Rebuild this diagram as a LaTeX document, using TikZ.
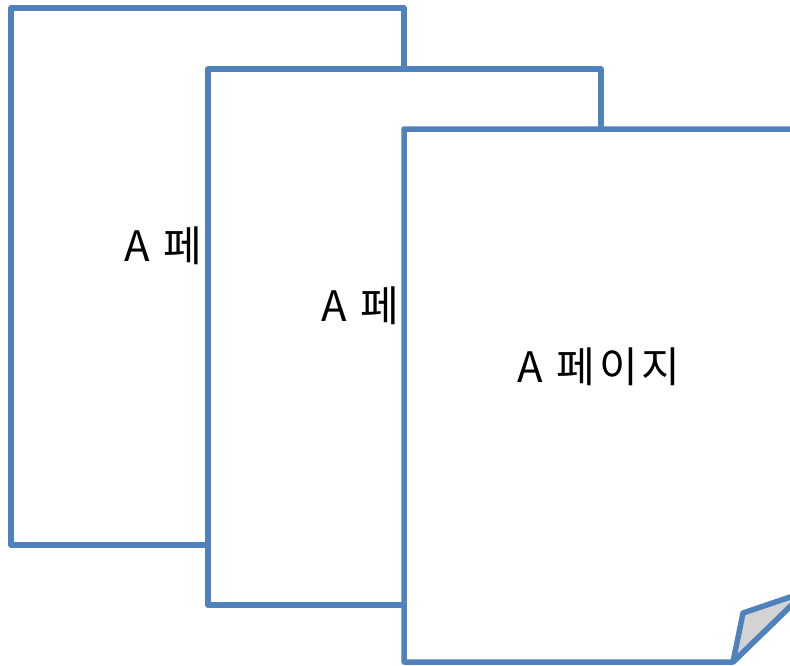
\documentclass[tikz,border=0pt]{standalone}
\usepackage{fontspec}
\newfontfamily\kr[LetterSpace=9]{Noto Sans CJK KR}
\definecolor{pageblue}{RGB}{79,129,189}
\definecolor{foldgray}{RGB}{211,211,211}
\begin{document}
\begin{tikzpicture}[x=1pt,y=-1pt,
  pageedge/.style={draw=pageblue,line width=5.5pt,line join=round,fill=white},
  pagelabel/.style={font=\kr\fontsize{42}{48}\selectfont,text=black,inner sep=0pt,anchor=base}]
\useasboundingbox (0,0) rectangle (790,665);
\clip (0,0) rectangle (790,665);
% page 1
\draw[pageedge] (11,8) rectangle (404,545);
\node[pagelabel] (t1) at (206,261) {A 페이지};
% page 2
\draw[pageedge] (208,69) rectangle (601,605);
\node[pagelabel] (t2) at (403,321) {A 페이지};
% page 3 with folded corner
\draw[pageedge] (404,129) -- (805,129) -- (805,592) -- (733,662) -- (404,662) -- cycle;
\node[pagelabel] (t3) at (599,382) {A 페이지};
\draw[pageedge,fill=foldgray] (733,662) -- (743,613) -- (805,592) -- cycle;
\end{tikzpicture}
\end{document}
